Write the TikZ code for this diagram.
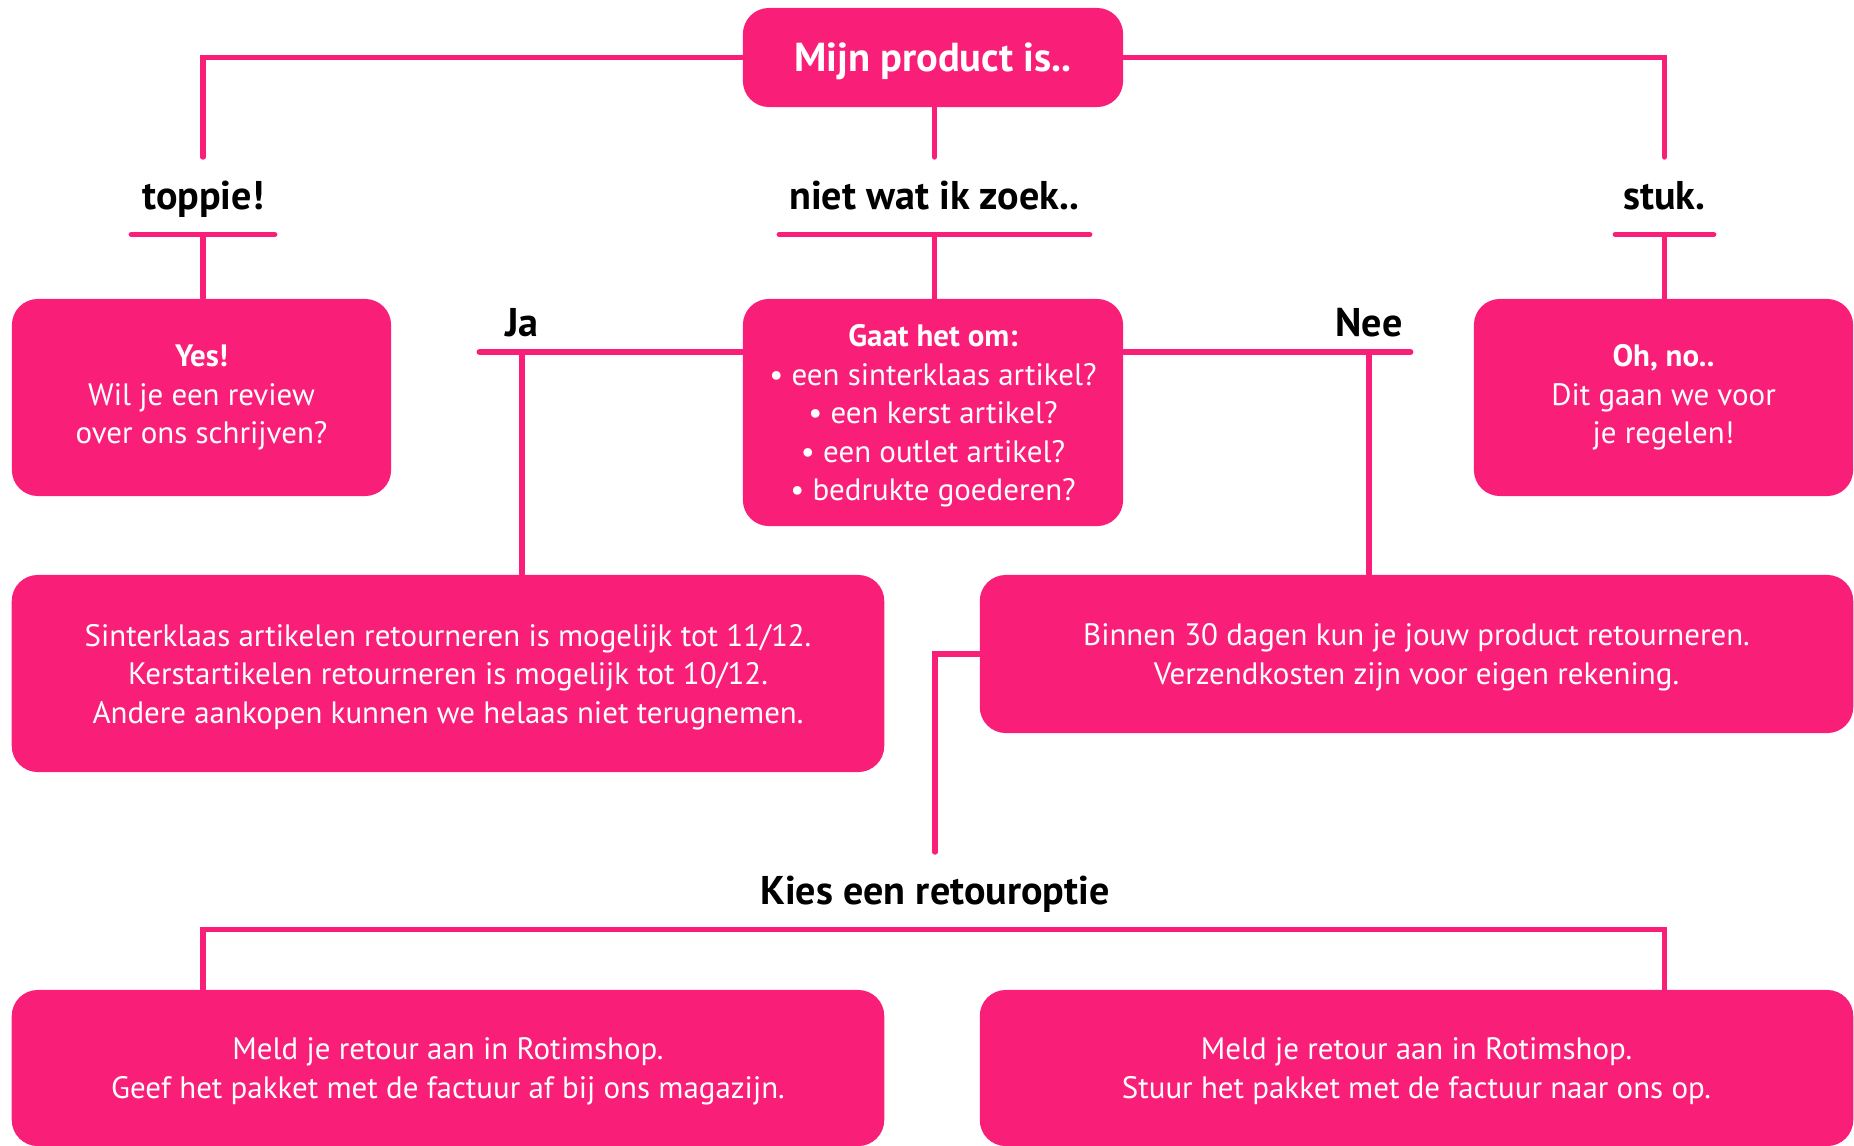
\documentclass[tikz,border=0pt]{standalone}
\usepackage{fontspec}
\setmainfont{PT Sans}
\usepackage{tikz}
\definecolor{rotipink}{HTML}{F91E78}

\begin{document}
\begin{tikzpicture}[
  x=0.01cm, y=-0.01cm,
  card/.style={rectangle, rounded corners=0.26cm, fill=rotipink, text=white, align=center, inner sep=0pt, font=\fontsize{8.8}{10.95}\selectfont},
  lowcard/.style={card, text depth=0pt},
  question/.style={lowcard, font=\bfseries\fontsize{11.5}{13}\selectfont},
  branch/.style={font=\bfseries\fontsize{11.4}{13}\selectfont, text=black, text height=0.27cm, text depth=0pt, inner xsep=0pt, inner ysep=0.245cm, anchor=south},
  answer/.style={branch, inner ysep=0.15cm},
  link/.style={draw=rotipink, line width=1.5pt, line cap=round}
]
  \clip (0,0) rectangle (1854,1145);

  % Start question
  \node[question, minimum width=3.8cm, minimum height=0.99cm] (start) at (933,57.5) {Mijn product is..};

  % First choice (text sits on its underline)
  \node[branch, minimum width=1.42cm] (toppie) at (203,234.5) {toppie!};
  \node[branch, minimum width=3.09cm] (niet) at (934.5,234.5) {niet wat ik zoek..};
  \node[branch, minimum width=0.97cm] (stuk) at (1664.5,234.5) {stuk.};

  % Answer cards
  \node[card, minimum width=3.79cm, minimum height=1.97cm] (yes) at (201.5,397.5) {\textbf{Yes!}\\Wil je een review\\over ons schrijven?};
  \node[lowcard, minimum width=3.8cm, minimum height=2.27cm] (gaat) at (933,412.5) {\textbf{Gaat het om:}\\• een sinterklaas artikel?\\• een kerst artikel?\\• een outlet artikel?\\• bedrukte goederen?};
  \node[card, minimum width=3.79cm, minimum height=1.97cm] (ohno) at (1663.5,397.5) {\textbf{Oh, no..}\\Dit gaan we voor\\je regelen!};

  % Ja / Nee
  \node[answer, minimum width=0.84cm] (ja) at (522,352) {Ja};
  \node[answer, minimum width=0.82cm] (nee) at (1369,352) {Nee};

  \node[lowcard, minimum width=8.72cm, minimum height=1.97cm] (sint) at (448,673.5) {Sinterklaas artikelen retourneren is mogelijk tot 11/12.\\Kerstartikelen retourneren is mogelijk tot 10/12.\\Andere aankopen kunnen we helaas niet terugnemen.};
  \node[lowcard, minimum width=8.73cm, minimum height=1.58cm] (binnen) at (1416.5,654) {Binnen 30 dagen kun je jouw product retourneren.\\Verzendkosten zijn voor eigen rekening.};

  % Return options
  \node[branch] (kies) at (935,929.5) {Kies een retouroptie};
  \node[lowcard, minimum width=8.72cm, minimum height=1.56cm] (meld1) at (448,1068) {Meld je retour aan in Rotimshop.\\Geef het pakket met de factuur af bij ons magazijn.};
  \node[lowcard, minimum width=8.73cm, minimum height=1.56cm] (meld2) at (1416.5,1068) {Meld je retour aan in Rotimshop.\\Stuur het pakket met de factuur naar ons op.};

  % Connectors
  \draw[link] (toppie.north) |- (start.west);
  \draw[link] (start.east) -| (stuk.north);
  \draw[link] (niet.north |- start.south) -- (niet.north);

  \draw[link] (toppie.south west) -- (toppie.south east);
  \draw[link] (niet.south west) -- (niet.south east);
  \draw[link] (stuk.south west) -- (stuk.south east);
  \draw[link] (toppie.south) -- (toppie.south |- yes.north);
  \draw[link] (niet.south) -- (niet.south |- gaat.north);
  \draw[link] (stuk.south) -- (stuk.south |- ohno.north);

  \draw[link] (ja.south west) -- (ja.south -| gaat.west);
  \draw[link] (nee.south -| gaat.east) -- (nee.south east);
  \draw[link] (ja.south) -- (ja.south |- sint.north);
  \draw[link] (nee.south) -- (nee.south |- binnen.north);

  \draw[link] (binnen.west) -| (kies.north);
  \draw[link] (meld1.north -| toppie.south) |- (kies.south) -| (meld2.north -| stuk.south);
\end{tikzpicture}
\end{document}
